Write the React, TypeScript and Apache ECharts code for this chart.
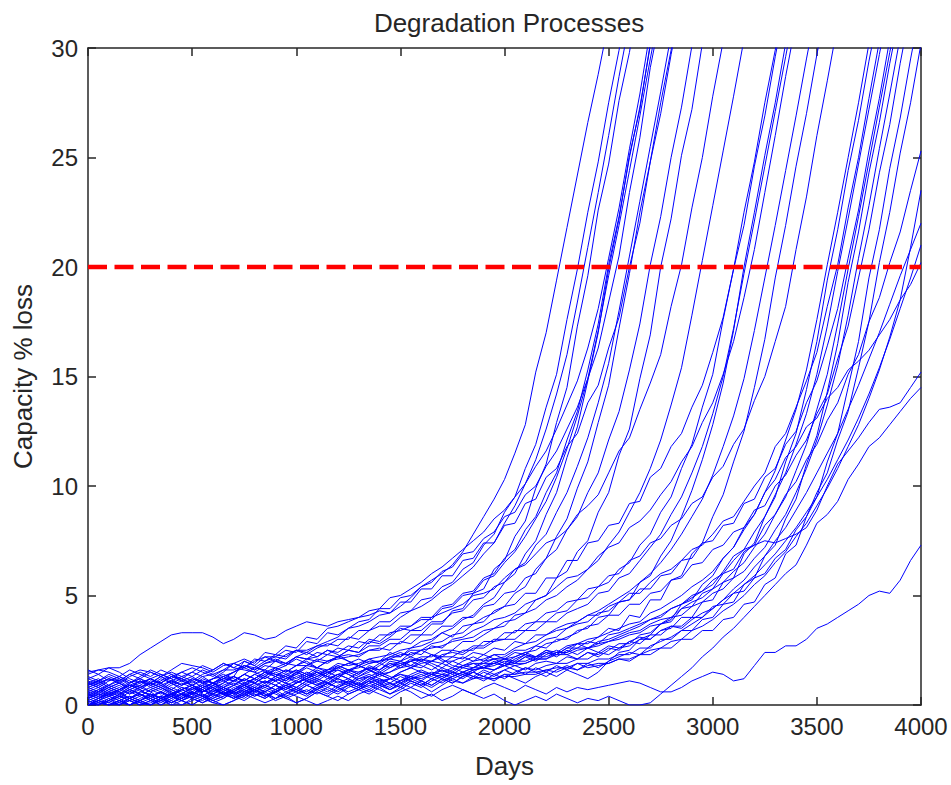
import React, { useEffect, useRef } from "react";
import * as echarts from "echarts";

// ---- data (days on x, capacity % loss on y) ----
const STEP = 50; // days between readings
const X_MIN = 0;
const X_MAX = 4000;
const X_INTERVAL = 500;
const Y_MIN = 0;
const Y_MAX = 30;
const Y_INTERVAL = 5;
const THRESHOLD = 20; // end-of-life line (% loss)

// each line: readings every 50 days from day 0 ("early", used until "start"), then from "start" day on ("rise")
const L01 = { start: 0, early: [], rise: [1.5,1.6,1.7,1.7,1.9,2.3,2.6,2.9,3.2,3.3,3.3,3.3,3.1,2.8,3.0,3.3,3.2,3.0,3.1,3.4,3.6,3.8,3.7,3.6,3.8,3.9,4.0,4.1,4.3,4.2,4.5,4.9,5.4,5.7,6.0,6.4,7.0,7.8,8.6,9.4,10.3,11.5,12.8,15.2,17.0,19.4,21.8,24.2,26.6,28.8,31.2] };
const L02 = { start: 550, early: [0.8,1.0,1.2,1.1,1.4,1.6,1.5,1.3,1.6,1.9,1.8], rise: [1.7,1.5,1.8,1.9,1.7,2.1,2.0,2.3,2.2,2.5,2.4,2.7,2.7,3.0,3.0,3.4,3.4,3.8,3.8,4.2,4.3,4.8,4.9,5.4,5.6,6.2,6.5,7.3,7.8,8.8,9.5,10.8,11.9,13.6,15.1,17.6,19.9,22.5,24.8,27.5,29.9,32.6] };
const L03 = { start: 600, early: [0.3,0.5,0.4,0.7,0.9,0.8,1.1,1.0,1.3,1.2,1.0,1.3], rise: [1.4,1.6,1.9,1.7,2.0,2.2,2.0,2.3,2.5,2.3,2.6,2.8,2.7,3.1,3.0,3.4,3.6,3.6,4.0,4.3,4.5,4.8,5.2,5.5,5.9,6.3,6.9,7.4,8.3,9.1,10.1,11.2,12.6,14.2,16.0,18.4,20.9,23.4,26.0,28.7,31.2,33.7] };
const L04 = { start: 600, early: [1.2,1.0,0.7,0.9,0.6,0.8,1.0,1.3,1.1,0.9,1.2,1.1], rise: [1.0,1.3,1.1,1.4,1.2,1.5,1.3,1.6,1.5,1.8,1.7,2.0,2.1,2.2,2.3,2.5,2.5,2.8,2.8,3.2,3.2,3.7,3.7,4.3,4.4,5.1,5.3,6.2,6.6,7.7,8.4,9.9,11.0,12.9,14.5,17.3,19.6,22.6,24.7,27.6,29.8,32.7] };
const L05 = { start: 700, early: [0.0,0.2,0.1,0.4,0.3,0.6,0.5,0.3,0.5,0.8,0.7,1.0,1.2,1.5], rise: [1.9,2.1,1.9,2.4,2.3,2.7,2.6,3.1,3.0,3.5,3.6,3.8,4.0,4.3,4.4,4.9,5.0,5.3,5.6,6.0,6.3,6.7,7.1,7.5,7.9,8.5,8.9,9.5,10.1,10.9,11.6,12.6,13.7,14.8,16.3,18.1,20.4,22.7,25.4,27.9,30.8,33.3] };
const L06 = { start: 700, early: [0.6,0.4,0.7,0.5,0.8,1.1,0.9,0.7,1.0,0.8,0.6,0.9,1.2,1.3], rise: [1.5,1.8,1.6,1.9,2.0,1.8,2.2,2.1,2.4,2.3,2.6,2.5,2.9,2.8,3.2,3.2,3.6,3.6,4.0,4.0,4.5,4.6,5.1,5.2,5.8,6.0,6.7,7.1,8.0,8.6,9.7,10.6,12.1,13.4,15.3,17.4,20.1,22.3,25.0,27.3,30.1,32.4] };
const L07 = { start: 700, early: [0.9,1.1,0.8,0.6,0.3,0.5,0.2,0.4,0.7,0.5,0.8,0.6,0.9,1.2], rise: [1.3,1.1,1.4,1.2,1.5,1.3,1.6,1.4,1.7,1.6,1.9,1.8,1.9,2.1,2.2,2.3,2.5,2.6,2.9,3.0,3.3,3.5,3.9,4.1,4.6,4.9,5.6,6.0,6.9,7.5,8.7,9.7,11.3,12.7,14.8,17.0,19.9,22.2,25.1,27.2,30.2,32.3] };
const L08 = { start: 700, early: [0.4,0.7,0.9,1.2,1.0,1.3,1.6,1.4,1.2,1.5,1.7,1.5,1.3,1.6], rise: [1.6,1.8,1.7,1.6,2.0,1.9,2.2,2.1,2.2,2.5,2.4,2.7,2.6,3.0,2.9,3.3,3.4,3.6,3.9,3.9,4.4,4.5,5.0,5.1,5.7,5.9,6.5,7.0,7.7,8.5,9.3,10.4,11.7,13.2,14.9,17.1,19.6,21.9,24.4,26.9,29.5,32.0] };
const L09 = { start: 750, early: [0.2,0.0,0.3,0.1,0.0,0.2,0.5,0.3,0.6,0.4,0.7,0.9,0.7,1.0,1.3], rise: [2.0,1.8,2.2,2.2,2.5,2.4,2.9,2.8,3.3,3.2,3.5,3.8,3.9,4.4,4.4,4.9,5.0,5.4,5.6,6.1,6.3,6.9,7.0,7.6,7.9,8.6,8.8,9.6,10.0,10.9,11.6,12.6,13.6,14.9,16.3,18.4,20.5,23.4,25.9,29.1,31.5,34.0] };
const L10 = { start: 800, early: [1.4,1.6,1.5,1.3,1.0,1.2,0.9,1.1,1.4,1.2,1.5,1.8,1.6,1.9,1.7,1.6], rise: [1.5,1.8,1.7,1.9,1.8,2.1,2.0,2.3,2.2,2.5,2.4,2.7,2.7,3.0,3.0,3.4,3.4,3.8,3.8,4.2,4.3,4.8,4.9,5.4,5.6,6.2,6.5,7.3,7.8,8.8,9.7,10.9,12.2,13.8,15.6,18.0,20.5,23.0,25.5,28.0,30.6,33.1] };
const L11 = { start: 800, early: [0.0,0.0,0.2,0.0,0.3,0.5,0.3,0.1,0.4,0.2,0.5,0.7,0.5,0.8,0.6,0.9], rise: [1.2,1.0,1.3,1.1,1.5,1.3,1.6,1.4,1.8,1.6,1.7,1.9,2.0,2.2,2.2,2.5,2.5,2.8,2.9,3.2,3.3,3.7,3.8,4.3,4.5,5.1,5.4,6.2,6.7,7.7,8.5,9.9,11.1,12.9,14.6,17.2,19.7,22.5,24.8,27.5,29.9,32.6] };
const L12 = { start: 800, early: [0.7,0.9,0.6,0.8,0.5,0.7,1.0,0.8,0.6,0.3,0.5,0.8,1.0,1.2,1.1,1.4], rise: [1.7,2.0,2.2,2.1,2.5,2.5,2.7,2.9,3.1,3.5,3.6,3.8,4.1,4.2,4.7,4.7,5.3,5.3,5.9,5.9,6.6,6.7,7.4,7.4,8.2,8.3,9.2,9.4,10.4,10.8,11.8,12.4,13.8,14.6,16.3,17.7,20.0,22.0,24.8,27.0,29.7,32.2] };
const L13 = { start: 900, early: [0.5,0.3,0.6,0.4,0.2,0.0,0.2,0.4,0.2,0.5,0.3,0.6,0.8,0.6,0.9,0.7,1.0,1.3], rise: [1.7,1.5,1.8,1.8,2.0,1.9,2.2,2.3,2.2,2.5,2.6,2.5,2.9,2.8,3.2,3.2,3.6,3.6,4.0,4.0,4.5,4.6,5.1,5.2,5.8,6.0,6.7,7.1,8.0,8.6,9.7,10.6,12.1,13.4,15.3,17.4,20.1,22.3,25.0,27.3,30.1,32.4] };
const L14 = { start: 950, early: [1.0,0.8,1.1,1.3,1.1,0.8,1.0,1.3,1.5,1.3,1.1,1.4,1.6,1.9,1.7,2.0,1.8,1.5,1.4], rise: [1.3,1.0,1.2,1.5,1.3,1.2,1.6,1.4,1.8,1.6,2.0,1.9,2.0,2.2,2.2,2.5,2.5,2.9,2.9,3.2,3.5,3.6,4.1,4.2,4.8,5.0,5.8,6.1,7.0,7.5,8.8,9.7,11.4,12.6,14.9,16.9,20.0,22.2,25.1,27.2,30.2,32.3] };
const L15 = { start: 1050, early: [0.3,0.6,0.8,0.6,0.9,0.7,0.4,0.6,0.9,1.1,0.9,0.6,0.8,0.5,0.7,1.0,1.2,1.0,1.3,1.1,1.4], rise: [1.8,2.1,2.0,2.2,2.5,2.4,2.9,2.8,3.1,3.5,3.4,3.6,4.0,4.2,4.4,4.6,5.0,5.1,5.3,5.8,6.2,6.4,6.9,7.4,7.6,8.0,8.7,9.1,9.6,10.6,11.6,12.2,13.5,14.7,16.0,18.2,20.1,22.7,25.0,27.8,30.3,32.8] };
const L16 = { start: 1150, early: [0.0,0.1,0.0,0.2,0.4,0.2,0.0,0.3,0.1,0.4,0.6,0.4,0.7,0.5,0.3,0.6,0.8,0.6,0.9,0.7,1.0,1.2,1.4], rise: [1.6,1.7,1.9,1.8,2.0,2.0,2.1,2.3,2.3,2.5,2.6,2.7,2.9,3.0,3.1,3.4,3.5,3.8,3.9,4.2,4.4,4.8,5.0,5.4,5.7,6.2,6.6,7.3,7.9,8.8,9.7,10.8,12.1,13.7,15.4,17.8,20.3,22.8,25.3,27.8,30.4,32.9] };
const L17 = { start: 1300, early: [0.8,0.6,0.9,0.7,1.0,1.2,1.0,0.8,0.5,0.7,0.5,0.8,0.6,0.9,1.1,1.4,1.2,1.5,1.3,1.6,1.4,1.7,1.5,1.2,1.4,1.6], rise: [1.5,1.7,1.6,1.9,1.8,2.1,2.0,2.3,2.2,2.5,2.4,2.7,2.7,3.0,3.0,3.4,3.4,3.8,3.8,4.2,4.3,4.8,4.9,5.4,5.6,6.2,6.5,7.3,7.8,8.8,9.5,10.8,11.9,13.6,15.1,17.6,19.9,22.5,24.8,27.5,29.9,32.6] };
const L18 = { start: 1300, early: [0.1,0.3,0.5,0.3,0.0,0.2,0.4,0.2,0.5,0.7,0.9,0.7,0.4,0.6,0.3,0.5,0.7,0.9,1.2,1.0,0.8,1.1,1.3,1.5,1.7,1.9], rise: [2.1,1.9,2.0,2.4,2.2,2.6,2.7,2.9,3.3,3.1,3.6,3.7,4.0,4.2,4.5,4.6,5.1,5.1,5.8,5.8,6.6,6.6,7.4,7.5,8.2,8.3,9.2,9.3,10.4,10.8,11.8,12.4,13.6,14.6,16.1,17.7,19.9,21.9,24.6,26.9,29.6,32.1] };
const L19 = { start: 1350, early: [1.3,1.1,1.4,1.2,0.9,1.1,0.8,1.0,1.3,1.1,1.3,1.6,1.4,1.1,1.3,1.0,1.2,1.5,1.7,1.5,1.8,2.0,1.7,1.5,1.6,1.4,1.2], rise: [1.3,1.1,1.2,1.4,1.3,1.5,1.4,1.7,1.5,1.8,1.9,1.9,2.1,2.1,2.4,2.3,2.7,2.6,3.0,3.0,3.4,3.5,4.0,4.1,4.7,4.8,5.6,5.9,6.8,7.5,8.6,9.8,11.2,12.8,14.7,17.1,20.0,22.5,25.1,27.5,30.2,32.7] };
const L20 = { start: 1350, early: [0.6,0.8,0.5,0.3,0.6,0.4,0.7,0.9,0.7,1.0,0.8,0.5,0.3,0.5,0.8,0.6,0.9,1.1,0.9,0.6,0.8,1.1,0.9,1.2,1.4,1.2,1.5], rise: [1.7,1.6,1.9,1.7,2.0,2.1,2.0,2.3,2.4,2.3,2.6,2.6,2.9,3.0,3.0,3.4,3.4,3.8,3.8,4.2,4.4,4.6,5.1,5.2,5.8,6.0,6.6,7.2,7.8,8.7,9.5,10.6,11.8,13.3,15.0,17.2,19.7,22.1,24.6,27.1,29.6,32.1] };
const L21 = { start: 1400, early: [0.2,0.0,0.2,0.5,0.7,0.5,0.3,0.0,0.2,0.0,0.3,0.1,0.4,0.6,0.4,0.7,0.5,0.3,0.6,0.8,0.6,0.9,0.7,1.0,1.2,1.0,1.3,1.5], rise: [1.8,2.1,2.0,2.4,2.3,2.7,2.6,3.0,3.1,3.4,3.6,3.9,4.0,4.2,4.6,4.8,5.0,5.4,5.8,5.9,6.2,6.8,7.2,7.4,8.1,8.4,8.9,9.6,10.2,11.1,11.8,12.9,13.8,15.1,16.6,18.6,20.8,23.4,26.0,28.7,31.2,33.7] };
const L22 = { start: 1450, early: [1.1,0.9,1.2,1.0,1.3,1.5,1.3,1.6,1.4,1.1,0.9,1.2,1.0,1.3,1.5,1.8,1.6,1.9,2.1,1.9,2.2,2.4,2.2,2.5,2.3,2.0,1.8,1.6,1.4], rise: [1.5,1.7,1.8,1.7,2.0,1.9,2.2,2.1,2.4,2.3,2.6,2.5,2.9,2.8,3.2,3.2,3.5,3.7,3.8,4.1,4.3,4.6,4.9,5.2,5.6,6.0,6.5,7.1,7.8,8.6,9.4,10.5,11.8,13.2,14.9,17.1,19.5,21.9,24.4,26.9,29.5,32.0] };
const L23 = { start: 1500, early: [0.0,0.3,0.1,0.0,0.2,0.0,0.1,0.3,0.5,0.3,0.6,0.4,0.2,0.0,0.2,0.4,0.7,0.5,0.3,0.5,0.8,0.6,0.9,0.7,0.5,0.8,1.0,0.8,1.1,0.9], rise: [1.1,1.3,1.2,1.4,1.3,1.5,1.4,1.6,1.7,1.6,1.9,1.8,1.9,2.1,2.1,2.4,2.4,2.8,2.8,3.1,3.5,3.4,4.1,4.0,4.8,4.8,5.7,5.9,6.9,7.4,8.6,9.6,11.1,12.5,14.5,16.7,19.5,21.9,24.6,27.0,29.7,32.1] };
const L24 = { start: 1600, early: [0.9,1.1,0.8,1.0,0.7,0.9,1.2,1.0,0.7,0.5,0.8,0.6,0.9,1.1,0.9,1.2,1.0,1.3,1.1,0.8,1.0,1.3,1.5,1.3,1.6,1.4,1.1,1.3,1.0,1.2,1.5,1.7], rise: [1.9,2.0,2.2,2.2,2.5,2.5,2.9,2.9,3.3,3.3,3.7,3.8,4.2,4.3,4.7,4.8,5.3,5.4,5.9,6.0,6.6,6.8,7.4,7.6,8.2,8.5,9.2,9.5,10.4,10.9,11.9,12.6,13.9,15.0,16.6,18.2,20.8,23.2,26.0,28.5,31.1,33.6] };
const L25 = { start: 1750, early: [0.4,0.2,0.5,0.7,0.5,0.8,0.6,0.3,0.5,0.2,0.4,0.7,0.5,0.8,1.0,0.8,0.6,0.9,0.7,0.4,0.6,0.9,1.1,0.9,1.2,1.0,0.8,1.1,0.9,1.2,1.4,1.2,1.3,1.5,1.4], rise: [1.6,1.8,1.7,1.9,1.9,2.1,2.0,2.3,2.2,2.5,2.4,2.7,2.8,3.0,3.1,3.3,3.5,3.7,3.8,4.2,4.4,4.7,5.0,5.4,5.7,6.1,6.7,7.2,8.0,8.7,9.7,10.7,12.1,13.5,15.3,17.6,20.1,22.5,25.0,27.5,30.2,32.6] };
const L26 = { start: 1750, early: [0.0,0.2,0.0,0.0,0.3,0.1,0.0,0.2,0.4,0.2,0.0,0.3,0.5,0.3,0.6,0.4,0.7,0.5,0.2,0.4,0.1,0.3,0.6,0.4,0.7,0.9,0.7,0.5,0.8,1.0,0.8,1.1,0.9,0.6,0.9], rise: [1.2,1.4,1.2,1.5,1.3,1.6,1.4,1.7,1.6,1.8,1.9,1.9,2.1,2.1,2.4,2.3,2.6,2.7,3.0,3.0,3.4,3.5,4.0,4.0,4.7,4.8,5.6,5.8,6.9,7.4,8.6,9.5,11.1,12.4,14.4,16.6,19.4,21.7,24.4,26.7,29.4,31.8] };
const L27 = { start: 1800, early: [1.2,1.4,1.1,1.3,1.6,1.4,1.2,0.9,1.1,1.3,1.5,1.3,1.0,1.2,1.5,1.7,1.5,1.3,1.6,1.8,2.1,1.9,1.7,2.0,2.2,2.0,1.8,2.1,1.9,2.2,2.4,2.2,2.5,2.3,2.0,2.0], rise: [1.8,2.0,2.1,2.3,2.3,2.6,2.8,2.9,3.2,3.4,3.5,3.8,4.1,4.1,4.5,4.7,5.1,5.1,5.6,6.0,6.2,6.6,7.1,7.3,7.8,8.4,8.6,9.3,10.0,10.6,11.8,12.4,13.6,14.8,16.1,18.2,20.1,22.7,25.0,27.7,30.3,32.8] };
const L28 = { start: 1800, early: [0.5,0.7,0.4,0.6,0.3,0.1,0.3,0.6,0.4,0.7,0.9,0.7,1.0,0.8,0.5,0.7,0.4,0.6,0.9,0.7,1.0,1.2,1.0,0.8,1.1,0.9,1.2,1.4,1.2,1.0,1.3,1.1,0.9,1.2,1.4,1.3], rise: [1.5,1.7,1.7,1.8,2.0,1.9,2.2,2.2,2.4,2.3,2.6,2.6,2.9,2.8,3.2,3.3,3.5,3.7,3.9,4.0,4.4,4.6,5.0,5.2,5.7,6.0,6.6,7.1,7.9,8.6,9.6,10.6,11.9,13.3,15.1,17.3,19.8,22.2,24.7,27.2,29.7,32.2] };
const L29 = { start: 1850, early: [0.0,0.0,0.2,0.4,0.2,0.0,0.2,0.0,0.3,0.5,0.3,0.1,0.3,0.6,0.4,0.2,0.5,0.3,0.6,0.8,0.6,0.4,0.7,0.5,0.8,1.0,0.8,0.6,0.9,0.7,1.0,1.2,1.0,0.8,1.1,1.3,1.5], rise: [1.7,2.0,2.1,2.2,2.5,2.5,2.7,3.0,3.1,3.5,3.7,3.8,4.2,4.3,4.7,4.8,5.3,5.3,5.9,6.0,6.6,6.7,7.4,7.5,8.2,8.3,9.2,9.4,10.4,10.8,11.9,12.5,13.8,14.8,16.4,18.1,20.4,22.6,25.3,27.7,30.4,32.9] };
const L30 = { start: 1850, early: [1.6,1.4,1.7,1.5,1.2,1.0,1.2,1.4,1.2,0.9,1.1,0.8,1.0,0.7,0.9,1.2,1.0,1.3,1.1,1.4,1.6,1.4,1.2,1.5,1.3,1.6,1.8,1.6,1.9,1.7,2.0,2.2,2.0,2.3,2.1,1.8,1.7], rise: [1.6,1.7,1.9,1.8,2.0,2.0,2.2,2.2,2.4,2.4,2.6,2.6,2.8,2.9,3.1,3.3,3.4,3.7,3.9,4.0,4.4,4.7,4.9,5.3,5.6,6.1,6.5,7.2,7.8,8.7,9.5,10.7,11.9,13.5,15.1,17.4,19.9,22.3,24.8,27.3,29.8,32.3] };
const L31 = { start: 1850, early: [0.3,0.5,0.3,0.0,0.2,0.4,0.7,0.5,0.8,0.6,0.3,0.5,0.2,0.4,0.6,0.9,0.7,0.4,0.6,0.3,0.5,0.7,0.5,0.8,0.6,0.9,0.7,1.0,0.8,0.5,0.7,1.0,0.8,1.1,1.3,1.1,1.0], rise: [1.2,1.3,1.2,1.4,1.4,1.5,1.5,1.6,1.7,1.7,1.9,1.9,2.1,2.1,2.3,2.3,2.6,2.6,3.0,3.0,3.4,3.4,3.9,4.0,4.6,4.7,5.5,5.8,6.8,7.3,8.5,9.4,11.0,12.3,14.3,16.5,19.3,21.6,24.3,26.6,29.3,31.7] };
const L32 = { start: 1900, early: [0.8,1.0,1.2,1.0,0.7,0.9,0.6,0.8,1.1,0.9,1.2,1.0,0.8,0.5,0.7,0.9,0.7,1.0,1.2,1.0,1.3,1.1,0.9,1.1,1.4,1.2,1.0,1.3,1.5,1.3,1.1,1.4,1.6,1.4,1.2,1.5,1.3,1.6], rise: [1.7,1.6,1.8,1.9,1.9,2.1,2.1,2.3,2.3,2.5,2.6,2.7,2.9,3.0,3.2,3.3,3.6,3.7,4.0,4.1,4.5,4.7,5.1,5.3,5.8,6.1,6.7,7.2,8.0,8.7,9.7,10.8,12.1,13.7,15.5,17.8,20.4,22.8,25.4,27.9,30.5,33.0] };
const L33 = { start: 1900, early: [0.0,0.1,0.0,0.2,0.0,0.3,0.5,0.3,0.1,0.3,0.6,0.4,0.2,0.4,0.7,0.5,0.8,0.6,0.3,0.5,0.7,0.5,0.8,1.0,0.8,0.6,0.8,1.1,0.9,0.7,1.0,0.8,1.1,0.9,1.2,1.0,1.3,1.5], rise: [1.8,1.9,2.1,2.2,2.4,2.5,2.8,2.9,3.1,3.3,3.6,3.7,4.1,4.1,4.6,4.6,5.1,5.2,5.7,5.8,6.4,6.5,7.1,7.3,7.9,8.1,8.9,9.1,10.0,10.5,11.4,12.1,13.3,14.2,15.8,17.3,19.5,21.7,24.3,26.5,29.3,31.8] };
const L34 = { start: 1950, early: [1.0,1.2,0.9,1.1,1.4,1.2,1.5,1.3,1.0,1.2,0.9,1.1,0.8,1.0,1.3,1.1,1.4,1.6,1.4,1.2,1.5,1.3,1.1,1.4,1.7,1.5,1.8,1.6,1.3,1.5,1.8,2.0,1.8,1.6,1.9,1.7,1.5,1.3,1.2], rise: [1.2,1.3,1.3,1.4,1.4,1.6,1.5,1.7,1.6,1.8,1.9,1.9,2.1,2.1,2.3,2.3,2.6,2.6,3.0,3.0,3.4,3.4,3.9,4.0,4.6,4.7,5.5,5.8,6.9,7.3,8.6,9.5,11.1,12.4,14.5,16.6,19.5,21.7,24.5,26.8,29.5,32.0] };
const L35 = { start: 2000, early: [0.5,0.3,0.6,0.4,0.7,0.5,0.2,0.4,0.1,0.3,0.5,0.3,0.6,0.8,0.6,0.9,0.7,0.4,0.6,0.9,1.1,0.9,0.7,1.0,0.8,0.5,0.7,1.0,1.2,1.0,0.8,1.1,0.9,1.2,1.4,1.2,1.0,1.3,1.1,1.4], rise: [1.6,1.8,1.6,1.9,2.0,1.9,2.2,2.1,2.4,2.3,2.6,2.5,2.9,2.8,3.2,3.2,3.6,3.6,4.0,4.0,4.5,4.6,5.1,5.2,5.8,6.0,6.7,7.1,8.0,8.6,9.7,10.6,12.1,13.4,15.4,17.5,20.2,22.5,25.2,27.5,30.2] };
const L36 = { start: 2500, early: [0.2,0.4,0.2,0.5,0.3,0.6,0.8,0.6,0.4,0.7,0.5,0.8,1.0,0.8,1.1,0.9,0.6,0.8,1.1,1.3,1.1,1.4,1.2,1.0,1.3,1.5,1.3,1.6,1.4,1.7,1.9,1.7,2.0,1.8,1.5,1.7,2.0,2.2,2.0,2.3,2.1,1.9,2.2,2.0,2.3,2.5,2.3,2.1,2.4,2.2], rise: [2.5,2.8,2.8,3.2,3.3,3.7,3.8,4.4,4.5,5.1,5.3,6.0,6.2,7.0,7.3,8.2,8.7,9.6,10.2,11.2,11.9,13.0,13.8,15.1,16.0,17.5,18.6,20.2,21.6,23.5,25.3] };
const L37 = { start: 2500, early: [1.0,0.8,0.5,0.7,0.9,0.7,0.4,0.6,0.3,0.5,0.8,0.6,0.9,0.7,0.5,0.8,1.0,0.8,0.6,0.9,0.7,1.0,1.2,1.0,0.8,1.1,0.9,1.2,1.4,1.2,1.0,1.3,1.1,1.4,1.6,1.4,1.2,1.5,1.3,1.6,1.8,1.6,1.4,1.7,1.5,1.8,1.6,1.9,1.7,1.8], rise: [1.9,2.1,2.0,2.3,2.5,2.6,2.9,3.0,3.4,3.6,3.9,4.3,4.6,5.0,5.5,5.9,6.5,7.0,7.7,8.3,9.1,9.9,10.8,11.8,12.8,14.0,15.3,16.8,18.5,20.9,23.5] };
const L38 = { start: 2500, early: [0.0,0.2,0.4,0.2,0.0,0.2,0.0,0.3,0.5,0.3,0.6,0.4,0.1,0.3,0.6,0.4,0.7,0.9,0.7,1.0,0.8,0.5,0.7,1.0,0.8,1.1,0.9,1.2,1.0,0.7,0.9,1.2,1.4,1.2,1.0,1.3,1.5,1.3,1.6,1.4,1.2,1.5,1.7,1.5,1.3,1.6,1.8,1.6,1.9,1.7], rise: [2.0,2.2,2.4,2.3,2.7,2.9,3.1,3.4,3.7,4.0,4.4,4.8,5.3,5.7,6.3,6.8,7.5,8.1,8.9,9.7,10.6,11.5,12.4,13.5,14.6,15.8,17.0,18.3,19.6,20.8,22.0] };
const L39 = { start: 2500, early: [0.7,0.5,0.8,1.0,0.8,1.1,0.9,1.2,1.0,0.7,0.9,0.6,0.8,0.5,0.7,1.0,0.8,1.1,0.9,1.2,1.4,1.2,1.5,1.3,1.0,1.2,0.9,1.1,1.4,1.2,1.5,1.7,1.5,1.3,1.6,1.4,1.7,1.9,1.7,2.0,1.8,2.1,2.3,2.1,2.4,2.2,2.5,2.3,2.6,2.4], rise: [2.7,2.6,2.9,3.1,3.0,3.4,3.6,3.5,3.9,4.2,4.4,4.8,5.1,5.5,5.9,6.4,6.9,7.5,8.1,8.8,9.5,10.3,11.2,12.1,13.1,14.2,15.4,16.7,18.1,19.5,21.0] };
const L40 = { start: 2500, early: [0.3,0.1,0.0,0.2,0.4,0.2,0.5,0.3,0.0,0.2,0.4,0.2,0.5,0.7,0.5,0.3,0.6,0.4,0.7,0.9,0.7,0.5,0.8,0.6,0.9,1.1,0.9,0.7,1.0,0.8,1.1,1.3,1.1,0.9,1.2,1.0,1.3,1.5,1.3,1.1,1.4,1.2,1.0,1.3,1.5,1.3,1.6,1.4,1.2,1.5], rise: [2.0,2.4,2.5,3.0,3.2,3.7,3.9,4.6,4.8,5.5,5.9,6.7,7.2,8.1,8.7,9.7,10.3,11.3,11.8,12.7,13.1,14.0,14.5,15.3,15.7,16.2,16.9,17.6,18.5,19.2,20.2] };
const L41 = { start: 2500, early: [0.9,1.1,1.3,1.1,0.8,1.0,1.2,1.0,1.3,1.5,1.3,1.0,1.2,1.4,1.2,0.9,1.1,1.4,1.6,1.4,1.2,1.5,1.3,1.6,1.8,1.6,1.4,1.7,1.5,1.8,2.0,1.8,2.1,1.9,1.7,2.0,2.2,2.0,2.3,2.1,1.9,2.2,2.4,2.2,2.5,2.3,2.6,2.8,2.6,2.9], rise: [3.0,3.2,3.4,3.6,3.9,4.1,4.4,4.6,4.9,5.2,5.5,6.1,6.8,7.1,7.3,7.5,7.4,7.6,7.8,8.1,8.9,10.0,11.0,11.6,12.2,12.9,13.5,13.6,13.8,14.5,15.2] };
const L42 = { start: 2500, early: [0.4,0.6,0.4,0.2,0.0,0.2,0.4,0.2,0.0,0.0,0.2,0.4,0.7,0.5,0.3,0.6,0.4,0.7,0.5,0.3,0.1,0.3,0.6,0.4,0.2,0.5,0.7,0.9,0.7,0.5,0.8,0.6,0.3,0.5,0.2,0.4,0.7,0.5,0.3,0.5,0.2,0.0,0.2,0.4,0.2,0.5,0.3,0.1,0.3,0.2], rise: [0.4,0.2,0.0,0.0,0.1,0.5,0.9,1.3,1.7,2.2,2.6,3.1,3.5,4.0,4.5,5.0,5.5,6.0,6.4,7.3,8.3,8.7,9.3,10.3,11.0,11.8,12.2,12.8,13.4,14.0,14.5] };
const L43 = { start: 2500, early: [0.0,0.2,0.0,0.1,0.3,0.1,0.0,0.2,0.4,0.2,0.0,0.3,0.1,0.0,0.2,0.5,0.3,0.1,0.3,0.6,0.4,0.2,0.0,0.2,0.4,0.2,0.5,0.7,0.5,0.3,0.6,0.8,0.6,0.4,0.7,0.9,0.7,0.5,0.8,1.0,0.8,0.6,0.9,0.7,0.5,0.8,0.6,0.8,0.7,0.8], rise: [0.9,1.0,1.1,1.0,0.8,0.6,0.6,0.8,1.1,1.3,1.5,1.4,1.1,1.2,1.8,2.4,2.4,2.7,2.7,3.0,3.5,3.7,4.0,4.3,4.6,5.0,5.2,5.1,5.7,6.6,7.3] };

const LINES = [L01,L02,L03,L04,L05,L06,L07,L08,L09,L10,L11,L12,L13,L14,L15,L16,L17,L18,L19,L20,L21,L22,L23,L24,L25,L26,L27,L28,L29,L30,L31,L32,L33,L34,L35,L36,L37,L38,L39,L40,L41,L42,L43];

const TITLE = "Degradation Processes";
const X_NAME = "Days";
const Y_NAME = "Capacity % loss";

const FONT = "'Liberation Sans', Arial, Helvetica, sans-serif";
const INK = "#262626";

function toPoints(line: { start: number; early: number[]; rise: number[] }) {
  const pts: number[][] = [];
  for (let i = 0; i < line.early.length; i++) {
    const d = i * STEP;
    if (d >= line.start) break;
    pts.push([d, line.early[i]]);
  }
  line.rise.forEach((v, j) => pts.push([line.start + j * STEP, v]));
  return pts;
}

export default function App() {
  const ref = useRef<HTMLDivElement>(null);
  useEffect(() => {
    document.body.style.margin = "0";
    if (!ref.current) return;
    const chart = echarts.init(ref.current, null, { renderer: "svg" });
    const axisLine = { show: true, onZero: false, lineStyle: { color: INK, width: 1.5 } };
    const tick = { show: true, inside: true, length: 8, lineStyle: { color: INK, width: 1.5 } };
    const label = { color: INK, fontSize: 24, fontFamily: FONT, formatter: (v: number) => String(v) };
    const nameStyle = { color: INK, fontSize: 26, fontFamily: FONT };
    const lineSeries = LINES.map((l, k) => ({
      type: "line",
      name: "p" + (k + 1),
      data: toPoints(l),
      xAxisIndex: 0,
      yAxisIndex: 0,
      symbol: "none",
      silent: true,
      clip: true,
      lineStyle: { color: "#0000ff", width: 1 },
      z: 2,
    }));
    const option = {
      animation: false,
      backgroundColor: "#ffffff",
      title: {
        text: TITLE,
        left: 504,
        top: 5,
        textAlign: "center",
        textStyle: { fontFamily: FONT, fontSize: 26, fontWeight: "normal", color: INK },
      },
      grid: { left: 88, right: 30, top: 48, bottom: 80, containLabel: false },
      xAxis: [
        {
          type: "value", min: X_MIN, max: X_MAX, interval: X_INTERVAL,
          name: X_NAME, nameLocation: "middle", nameGap: 48,
          nameTextStyle: nameStyle,
          axisLine, axisTick: tick,
          axisLabel: { ...label, margin: 9 },
          splitLine: { show: false },
        },
        {
          type: "value", position: "top", min: X_MIN, max: X_MAX, interval: X_INTERVAL,
          axisLine, axisTick: tick, axisLabel: { show: false }, splitLine: { show: false },
        },
      ],
      yAxis: [
        {
          type: "value", min: Y_MIN, max: Y_MAX, interval: Y_INTERVAL,
          name: Y_NAME, nameLocation: "middle", nameGap: 52,
          nameTextStyle: nameStyle,
          axisLine, axisTick: tick,
          axisLabel: { ...label, margin: 10 },
          splitLine: { show: false },
        },
        {
          type: "value", position: "right", min: Y_MIN, max: Y_MAX, interval: Y_INTERVAL,
          axisLine, axisTick: tick, axisLabel: { show: false }, splitLine: { show: false },
        },
      ],
      series: [
        ...lineSeries,
        {
          type: "line",
          name: "threshold",
          data: [[X_MIN, THRESHOLD], [X_MAX, THRESHOLD]],
          symbol: "none",
          silent: true,
          lineStyle: { color: "#ff0000", width: 4.5, type: [19, 7.5] },
          z: 5,
        },
      ],
    };
    chart.setOption(option as any);
    return () => chart.dispose();
  }, []);
  return <div ref={ref} style={{ width: 951, height: 785 }} />;
}
